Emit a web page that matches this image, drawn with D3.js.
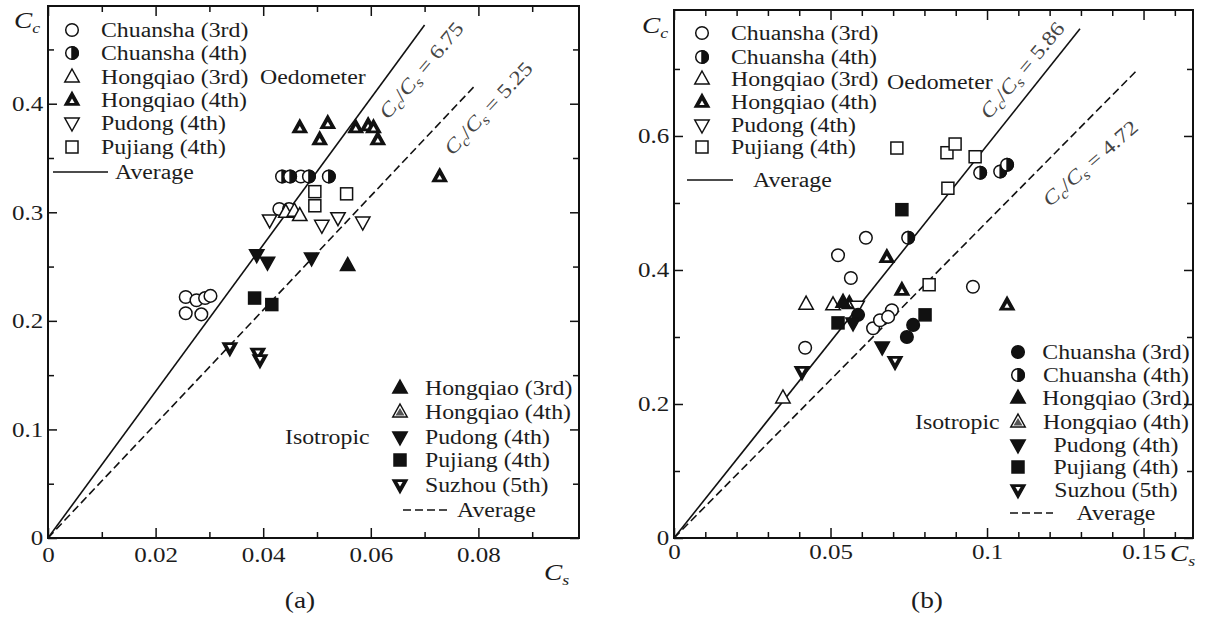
<!DOCTYPE html>
<html>
<head>
<meta charset="utf-8">
<title>Cc vs Cs</title>
<script src="https://cdn.jsdelivr.net/npm/d3@7"></script>
<style>
  body { margin: 0; background: #fff; }
  text { font-family: "Liberation Serif", "Times New Roman", serif; fill: #1c1c1c; }
</style>
</head>
<body>
<script>
// ---- data: [Cs, Cc] ----
// panel (a), oedometer (open markers)
var aOedChuansha3 = [[0.0256,0.222],[0.0276,0.219],[0.0292,0.221],[0.0302,0.223],[0.0256,0.207],[0.0285,0.206],[0.0430,0.303],[0.0448,0.303],[0.0470,0.333]];
var aOedChuansha4 = [[0.0435,0.333],[0.0450,0.333],[0.0485,0.333],[0.0522,0.333]];
var aOedHongqiao3 = [[0.0442,0.300],[0.0458,0.301],[0.0468,0.297]];
var aOedHongqiao4 = [[0.0468,0.378],[0.0520,0.382],[0.0505,0.367],[0.0572,0.378],[0.0595,0.380],[0.0605,0.378],[0.0613,0.367],[0.0728,0.333]];
var aOedPudong4   = [[0.0412,0.293],[0.0509,0.288],[0.0539,0.295],[0.0585,0.291]];
var aOedPujiang4  = [[0.0496,0.319],[0.0496,0.306],[0.0555,0.317]];
// panel (a), isotropic (filled markers)
var aIsoHongqiao3 = [[0.0557,0.251]];
var aIsoPudong4   = [[0.0388,0.261],[0.0408,0.254],[0.0490,0.258]];
var aIsoPujiang4  = [[0.0384,0.221],[0.0416,0.215]];
var aIsoSuzhou5   = [[0.0338,0.175],[0.0390,0.170],[0.0394,0.164]];

// panel (b), oedometer
var bOedChuansha3 = [[0.0524,0.422],[0.0613,0.448],[0.0565,0.388],[0.0955,0.375],[0.0696,0.340],[0.0636,0.313],[0.0658,0.325],[0.0684,0.330],[0.0419,0.284]];
var bOedChuansha4 = [[0.0978,0.545],[0.1042,0.547],[0.1064,0.557],[0.0748,0.448]];
var bOedHongqiao3 = [[0.0422,0.349],[0.0508,0.348],[0.0348,0.209]];
var bOedHongqiao4 = [[0.0680,0.419],[0.0728,0.370],[0.1064,0.348],[0.0560,0.350]];
var bOedPudong4   = [[0.0585,0.346]];
var bOedPujiang4  = [[0.0712,0.582],[0.0872,0.575],[0.0898,0.588],[0.0962,0.569],[0.0875,0.522],[0.0815,0.378]];
// panel (b), isotropic
var bIsoChuansha3 = [[0.0744,0.300],[0.0764,0.318],[0.0588,0.333]];
var bIsoHongqiao3 = [[0.0540,0.352]];
var bIsoPudong4   = [[0.0572,0.321],[0.0665,0.285]];
var bIsoPujiang4  = [[0.0524,0.321],[0.0728,0.490],[0.0802,0.333]];
var bIsoSuzhou5   = [[0.0706,0.263],[0.0409,0.248]];

// average lines: Cc/Cs ratio and end of the drawn line (Cs)
var ratiosA = [6.75, 5.25], lineEndA = [0.070, 0.0793];
var ratiosB = [5.86, 4.72], lineEndB = [0.1297, 0.148];

// ticks
var xMajorA = [0, 0.02, 0.04, 0.06, 0.08], xMinorA = [0.01, 0.03, 0.05, 0.07, 0.09];
var yMajorA = [0, 0.1, 0.2, 0.3, 0.4],     yMinorA = [0.05, 0.15, 0.25, 0.35, 0.45];
var xMajorB = [0, 0.05, 0.1, 0.15],        xMinorB = [0.01,0.02,0.03,0.04,0.06,0.07,0.08,0.09,0.11,0.12,0.13,0.14,0.16];
var yMajorB = [0, 0.2, 0.4, 0.6],          yMinorB = [0.1, 0.3, 0.5, 0.7];

// legends
var oedLabels  = ["Chuansha (3rd)", "Chuansha (4th)", "Hongqiao (3rd)", "Hongqiao (4th)", "Pudong (4th)", "Pujiang (4th)"];
var oedMarks   = ["circle", "halfCircle", "triUp", "triUpDot", "triDown", "square"];
var isoLabelsA = ["Hongqiao (3rd)", "Hongqiao (4th)", "Pudong (4th)", "Pujiang (4th)", "Suzhou (5th)"];
var isoMarksA  = ["triUpFill", "triUpHalf", "triDownFill", "squareFill", "triDownDot"];
var isoLabelsB = ["Chuansha (3rd)", "Chuansha (4th)", "Hongqiao (3rd)", "Hongqiao (4th)", "Pudong (4th)", "Pujiang (4th)", "Suzhou (5th)"];
var isoMarksB  = ["circleFill", "halfCircle", "triUpFill", "triUpHalf", "triDownFill", "squareFill", "triDownDot"];

var W = 1207, H = 619, FS = 20, SX = 1.19;

var svg = d3.select("body").append("svg")
  .attr("width", W).attr("height", H);
svg.append("rect").attr("width", W).attr("height", H).attr("fill", "#fff");

// text is horizontally stretched in the figure
function label(g, x, y, s, anchor, size) {
  return g.append("text")
    .attr("transform", "translate(" + x + "," + y + ") scale(" + SX + ",1)")
    .attr("dy", "0.35em")
    .attr("text-anchor", anchor || "start")
    .style("font-size", (size || FS) + "px")
    .text(s);
}

// C with italic subscript
function symLabel(g, x, y, sub) {
  var t = g.append("text")
    .attr("transform", "translate(" + x + "," + y + ") scale(" + SX + ",1)")
    .attr("dy", "0.35em")
    .style("font-size", "23px").style("font-style", "italic");
  t.append("tspan").text("C");
  t.append("tspan").attr("dy", 5).style("font-size", "15px").text(sub);
}

var triUp = "M0,-8L7.2,5L-7.2,5Z", triDown = "M0,8L7.2,-5L-7.2,-5Z";
var triUpSmall = "M0,-1.5L2.6,3L-2.6,3Z", triDownSmall = "M0,1.5L2.6,-3L-2.6,-3Z";

function marker(g, type, x, y) {
  var m = g.append("g").attr("transform", "translate(" + x + "," + y + ")")
    .attr("stroke", "#111").attr("stroke-width", 1.5);
  if (type === "circle" || type === "circleFill" || type === "halfCircle") {
    m.append("circle").attr("r", 6.3).attr("fill", type === "circleFill" ? "#111" : "#fff");
    if (type === "halfCircle") m.append("path").attr("d", "M0,-6.3A6.3,6.3 0 0 1 0,6.3Z").attr("fill", "#111");
  } else if (type === "square" || type === "squareFill") {
    m.append("rect").attr("x", -6).attr("y", -6).attr("width", 12).attr("height", 12)
      .attr("fill", type === "square" ? "#fff" : "#111");
  } else if (type.indexOf("triUp") === 0) {
    m.append("path").attr("d", triUp)
      .attr("fill", (type === "triUp" || type === "triUpHalf") ? "#fff" : "#111");
    if (type === "triUpDot") m.append("path").attr("d", triUpSmall).attr("fill", "#fff").attr("stroke", "none");
    if (type === "triUpHalf") m.append("path").attr("d", "M0,-4L4.5,3.5L-4.5,3.5Z").attr("fill", "#555").attr("stroke", "none");
  } else {
    m.append("path").attr("d", triDown)
      .attr("fill", type === "triDown" ? "#fff" : "#111");
    if (type === "triDownDot") m.append("path").attr("d", triDownSmall).attr("fill", "#fff").attr("stroke", "none");
  }
}

function panel(p) {
  var x = d3.scaleLinear().domain(p.xDom).range(p.xRange);
  var y = d3.scaleLinear().domain(p.yDom).range(p.yRange);
  var g = svg.append("g");

  // ticks, inward on all four sides
  function ticks(axis, vals, size, tr, withLabels, pad) {
    var a = g.append("g").attr("transform", tr)
      .call(axis.tickValues(vals).tickSize(-size).tickPadding(pad || 3)
        .tickFormat(withLabels ? function(d) { return String(d); } : ""));
    a.select(".domain").remove();
    a.selectAll("line").attr("stroke", "#111").attr("stroke-width", 1.5);
    a.selectAll("text").attr("font-family", null).attr("font-size", null)
      .style("font-size", "21px").attr("fill", null)
      .attr("transform", "scale(" + SX + ",1)");
  }
  var bottom = "translate(0," + p.yRange[0] + ")", top = "translate(0," + p.yRange[1] + ")";
  var left = "translate(" + p.xRange[0] + ",0)", right = "translate(" + p.xRange[1] + ",0)";
  ticks(d3.axisBottom(x), p.xMajor, 10, bottom, true, p.xPad);
  ticks(d3.axisBottom(x), p.xMinor, 6, bottom, false);
  ticks(d3.axisTop(x), p.xMajor, 10, top, false);
  ticks(d3.axisTop(x), p.xMinor, 6, top, false);
  ticks(d3.axisLeft(y), p.yMajor, 9, left, true, 4);
  ticks(d3.axisLeft(y), p.yMinor, 6, left, false);
  ticks(d3.axisRight(y), p.yMajor, 9, right, false);
  ticks(d3.axisRight(y), p.yMinor, 6, right, false);

  g.append("rect")
    .attr("x", p.xRange[0]).attr("y", p.yRange[1])
    .attr("width", p.xRange[1] - p.xRange[0]).attr("height", p.yRange[0] - p.yRange[1])
    .attr("fill", "none").attr("stroke", "#111").attr("stroke-width", 2);

  // average lines
  var line = d3.line().x(function(d) { return x(d[0]); }).y(function(d) { return y(d[1]); });
  p.ratios.forEach(function(r, i) {
    g.append("path").datum([[0, 0], [p.ends[i], p.ends[i] * r]])
      .attr("d", line).attr("fill", "none").attr("stroke", "#111").attr("stroke-width", 1.6)
      .attr("stroke-dasharray", i === 1 ? "8,4" : null);
    var lp = p.lineLabels[i];
    var t = g.append("text")
      .attr("transform", "translate(" + lp[0] + "," + lp[1] + ") rotate(" + lp[2] + ") scale(" + SX + ",1)")
      .attr("text-anchor", "middle").attr("dy", "0.35em")
      .style("font-size", "20px").style("fill", "#444");
    t.append("tspan").style("font-style", "italic").text("C");
    t.append("tspan").attr("dy", 4).style("font-size", "14px").style("font-style", "italic").text("c");
    t.append("tspan").attr("dy", -4).text("/");
    t.append("tspan").style("font-style", "italic").text("C");
    t.append("tspan").attr("dy", 4).style("font-size", "14px").style("font-style", "italic").text("s");
    t.append("tspan").attr("dy", -4).text(" = " + r.toFixed(2));
  });

  // points
  p.series.forEach(function(s) {
    s[1].forEach(function(d) { marker(g, s[0], x(d[0]), y(d[1])); });
  });

  // upper legend (oedometer)
  var L = p.oedLeg;
  oedLabels.forEach(function(s, i) {
    marker(g, oedMarks[i], L.mx, L.rows[i]);
    label(g, L.tx, L.rows[i], s);
  });
  g.append("line").attr("x1", L.line[0]).attr("x2", L.line[1])
    .attr("y1", L.avgY).attr("y2", L.avgY).attr("stroke", "#111").attr("stroke-width", 1.5);
  label(g, L.avgX, L.avgY, "Average");
  label(g, p.oedText[0], p.oedText[1], "Oedometer");

  // lower legend (isotropic)
  var I = p.isoLeg;
  I.labels.forEach(function(s, i) {
    marker(g, I.marks[i], I.mx, I.rows[i]);
    label(g, I.tx, I.rows[i], s, I.anchor);
  });
  g.append("line").attr("x1", I.line[0]).attr("x2", I.line[1])
    .attr("y1", I.avgY).attr("y2", I.avgY).attr("stroke", "#111").attr("stroke-width", 1.5)
    .attr("stroke-dasharray", "8,4");
  label(g, I.avgX, I.avgY, "Average", I.anchor);
  label(g, p.isoText[0], p.isoText[1], "Isotropic");

  symLabel(g, p.ccPos[0], p.ccPos[1], "c");
  symLabel(g, p.csPos[0], p.csPos[1], "s");
  label(g, p.tag[0], p.tag[1], p.tag[2], "middle", 23);
}

panel({
  xDom: [0, 0.0987], xRange: [48, 579], yDom: [0, 0.49], yRange: [538, 6],
  xMajor: xMajorA, xMinor: xMinorA, yMajor: yMajorA, yMinor: yMinorA, xPad: 9,
  ratios: ratiosA, ends: lineEndA,
  lineLabels: [[421, 70, -50], [488, 108, -47]],
  series: [
    ["circle", aOedChuansha3], ["halfCircle", aOedChuansha4], ["triUp", aOedHongqiao3],
    ["triUpDot", aOedHongqiao4], ["triDown", aOedPudong4], ["square", aOedPujiang4],
    ["triUpFill", aIsoHongqiao3], ["triDownFill", aIsoPudong4], ["squareFill", aIsoPujiang4],
    ["triDownDot", aIsoSuzhou5]
  ],
  oedLeg: { mx: 72, tx: 101, rows: [30, 53, 77, 100, 123, 147], line: [53, 108], avgY: 172, avgX: 115 },
  oedText: [260, 77],
  isoLeg: { labels: isoLabelsA, marks: isoMarksA, mx: 400, tx: 425, anchor: "start",
            rows: [388, 412, 437, 460, 485], line: [403, 451], avgY: 510, avgX: 457 },
  isoText: [285, 437],
  ccPos: [14, 20], csPos: [544, 572], tag: [300, 600, "(a)"]
});

panel({
  xDom: [0, 0.1658], xRange: [674, 1193], yDom: [0, 0.788], yRange: [538, 10],
  xMajor: xMajorB, xMinor: xMinorB, yMajor: yMajorB, yMinor: yMinorB, xPad: 6,
  ratios: ratiosB, ends: lineEndB,
  lineLabels: [[1022, 70, -50], [1090, 163, -41]],
  series: [
    ["circle", bOedChuansha3], ["halfCircle", bOedChuansha4], ["triUp", bOedHongqiao3],
    ["triUpDot", bOedHongqiao4], ["triDown", bOedPudong4], ["square", bOedPujiang4],
    ["circleFill", bIsoChuansha3], ["triUpFill", bIsoHongqiao3], ["triDownFill", bIsoPudong4],
    ["squareFill", bIsoPujiang4], ["triDownDot", bIsoSuzhou5]
  ],
  oedLeg: { mx: 702, tx: 731, rows: [33, 57, 79, 102, 125, 147], line: [687, 733], avgY: 180, avgX: 753 },
  oedText: [887, 82],
  isoLeg: { labels: isoLabelsB, marks: isoMarksB, mx: 1018, tx: 1116, anchor: "middle",
            rows: [352, 375, 398, 422, 445, 467, 490], line: [1010, 1053], avgY: 513, avgX: 1116 },
  isoText: [915, 422],
  ccPos: [642, 25], csPos: [1170, 553], tag: [927, 600, "(b)"]
});
</script>
</body>
</html>
